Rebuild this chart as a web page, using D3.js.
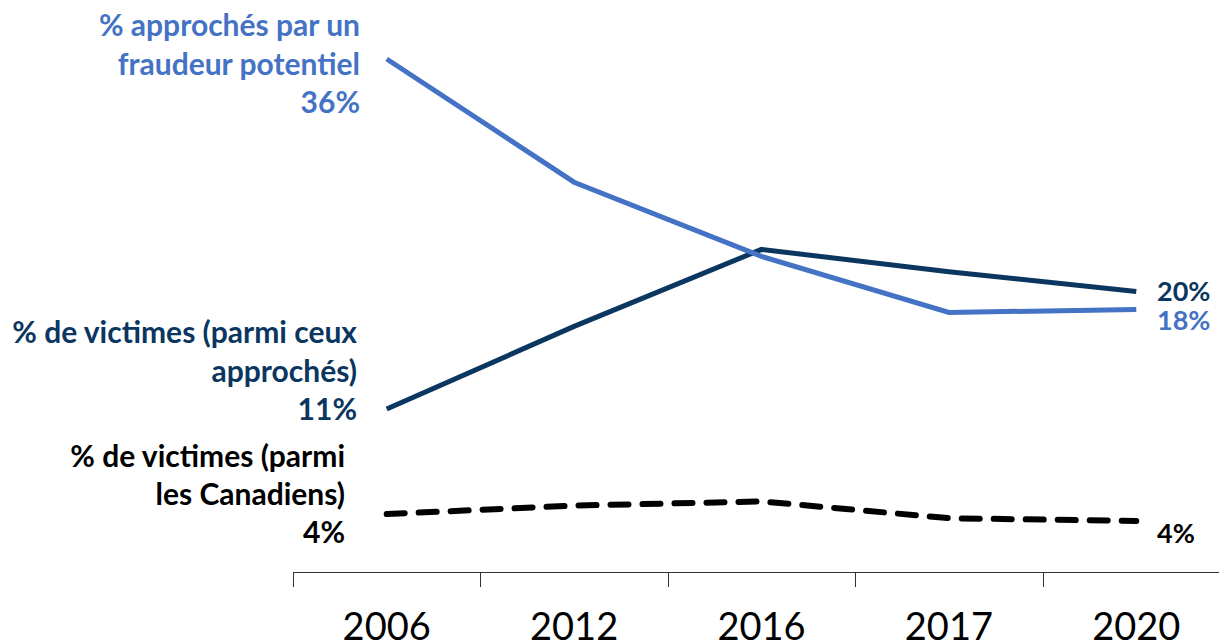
<!DOCTYPE html>
<html>
<head>
<meta charset="utf-8">
<script src="https://cdn.jsdelivr.net/npm/d3@7"></script>
<style>
	body { margin: 0; background: #fff; overflow: hidden; }
	svg { display: block; font-family: Lato, "Open Sans", sans-serif; }
</style>
</head>
<body>
<div id="chart"></div>
<script>
// data
const years = ["2006", "2012", "2016", "2017", "2020"];
const approches = [36, 27.2, 21.9, 17.9, 18.1];
const victimesApproches = [11, 16.9, 22.4, 20.8, 19.4];
const victimesCanadiens = [3.5, 4.1, 4.4, 3.2, 3.0];

const width = 1219;
const height = 643;

const svg = d3.select("#chart").append("svg").attr("width", width).attr("height", height);

// scales
const x = d3.scaleBand().domain(years).range([293, 1230]);
const y = d3.scaleLinear().domain([0, 40]).range([563, 3]);
const cx = (d) => x(d) + x.bandwidth() / 2;

// axis line + ticks at band edges
const axisY = 572;
svg.append("line").attr("x1", 293).attr("x2", width).attr("y1", axisY + 0.5).attr("y2", axisY + 0.5).style("stroke", "#333").style("stroke-width", 1);
const edges = years.map((d) => x(d)).concat([x(years[years.length - 1]) + x.bandwidth()]);
svg
	.selectAll(".tick-mark")
	.data(edges)
	.join("line")
	.attr("x1", (d) => Math.round(d) + 0.5)
	.attr("x2", (d) => Math.round(d) + 0.5)
	.attr("y1", axisY)
	.attr("y2", axisY + 15)
	.style("stroke", "#333");

// year labels
const xAxis = svg.append("g").attr("transform", `translate(0, ${axisY})`).call(d3.axisBottom(x).tickSize(0).tickPadding(41));
xAxis.select(".domain").remove();
xAxis.selectAll("text").style("font-family", "Lato, sans-serif").style("font-size", "38px").style("fill", "#000");

const line = d3
	.line()
	.x((d, i) => cx(years[i]))
	.y((d) => y(d));

const series = [
	{ values: victimesCanadiens, color: "#000000", dash: "18,14", width: 6 },
	{ values: victimesApproches, color: "#0B3660", dash: null, width: 5 },
	{ values: approches, color: "#4472C4", dash: null, width: 5 },
];

series.forEach((s) => {
	svg
		.append("path")
		.datum(s.values)
		.attr("d", line)
		.style("fill", "none")
		.style("stroke", s.color)
		.style("stroke-width", s.width)
		.style("stroke-dasharray", s.dash)
		.style("stroke-linecap", s.dash ? "round" : "butt");
});

// labels
function label(lines, xPos, y0, step, size, color, anchor) {
	const t = svg
		.append("text")
		.attr("text-anchor", anchor || "end")
		.style("font-weight", "bold")
		.style("font-size", size + "px")
		.style("fill", color);
	lines.forEach((txt, i) => {
		t.append("tspan").attr("x", xPos).attr("y", y0 + i * step).text(txt);
	});
}

label(["% approchés par un", "fraudeur potentiel", "36%"], 360, 36, 38.5, 30, "#4472C4");
label(["% de victimes (parmi ceux", "approchés)", "11%"], 357, 343, 38.5, 30, "#0B3660");
label(["% de victimes (parmi", "les Canadiens)", "4%"], 345, 467, 38, 30, "#000000");

label(["20%"], 1157, 301, 0, 27, "#0B3660", "start");
label(["18%"], 1157, 330, 0, 27, "#4472C4", "start");
label(["4%"], 1157, 543, 0, 27, "#000000", "start");
</script>
</body>
</html>
